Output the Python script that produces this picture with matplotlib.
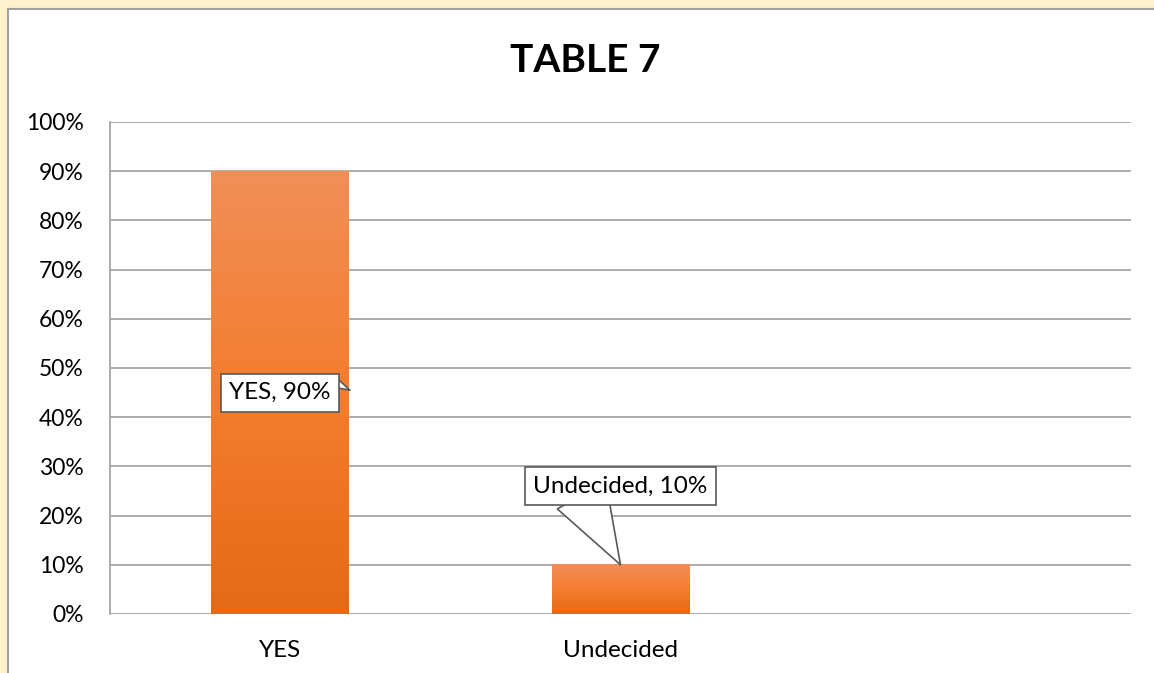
import numpy as np
import matplotlib
matplotlib.use("Agg")
import matplotlib.pyplot as plt
from matplotlib.colors import LinearSegmentedColormap
from matplotlib.patches import Rectangle

categories = ["YES", "Undecided", ""]
values = [90, 10, np.nan]
yticks = [0, 10, 20, 30, 40, 50, 60, 70, 80, 90, 100]
title = "TABLE 7"

# callout placement: label center (data), pointer tip (data),
# pointer base offset from tip (points), pointer width
label_pos = [(0, 45.0), (1, 26.0)]
label_tip = [(0.205, 45.5), (1, 10)]
label_base = [(-14, 7), (-28, 50)]
label_wedge = [0.45, 2.0]

plt.rcParams['font.family'] = ['Lato', 'DejaVu Sans']

fig = plt.figure(figsize=(11.54, 6.73), dpi=100)
fig.patch.set_facecolor("#FFF2CC")
# white chart panel with grey edge
fig.patches.append(Rectangle((8 / 1154, -0.05), 1.1, (673 - 9) / 673 + 0.05,
                             transform=fig.transFigure, fc="white",
                             ec="#A0A0A0", lw=1.5, zorder=-10))

ax = fig.add_axes([110 / 1154, 59 / 673, 1021 / 1154, 492 / 673])
ax.set_facecolor("none")

x = np.arange(len(categories))
bars = ax.bar(x, values, width=0.405, color="none", zorder=2)

cmap = LinearSegmentedColormap.from_list("excel_orange",
                                         ["#E56A17", "#F47D2F", "#F08F58"])
grad = np.linspace(0, 1, 256).reshape(-1, 1)
for b in bars:
    h = b.get_height()
    if not np.isfinite(h) or h <= 0:
        continue
    x0 = b.get_x()
    ax.imshow(grad, extent=[x0, x0 + b.get_width(), 0, h], origin="lower",
              aspect="auto", cmap=cmap, zorder=2, interpolation="bicubic")

ax.set_xlim(-0.5, len(categories) - 0.5)
ax.set_ylim(0, 100)
ax.set_yticks(yticks)
ax.set_yticklabels([f"{t}%" for t in yticks])
ax.set_xticks(x)
ax.set_xticklabels(categories)
ax.tick_params(axis="both", length=0, colors="black")
ax.tick_params(axis="y", pad=19, labelsize=16.5)
ax.tick_params(axis="x", pad=19, labelsize=17.5)
ax.grid(axis="y", color="#A6A6A6", lw=1.3, zorder=1)
ax.set_axisbelow(True)
for s in ["top", "right", "bottom"]:
    ax.spines[s].set_visible(False)
ax.spines["left"].set_color("#A6A6A6")
ax.spines["left"].set_linewidth(1.3)

for (lx, ly), tip, base, tw, cat, v in zip(label_pos, label_tip, label_base,
                                            label_wedge, categories, values):
    # pointer wedge, drawn under the box
    ax.annotate("", xy=tip, xytext=base, textcoords="offset points",
                arrowprops=dict(arrowstyle=f"wedge,tail_width={tw},shrink_factor=0.5",
                                fc="white", ec="#595959", lw=1.2,
                                shrinkA=0, shrinkB=0, mutation_scale=20),
                zorder=5)
    ax.text(lx, ly, f"{cat}, {v:.0f}%", ha="center", va="center", fontsize=17.5,
            bbox=dict(boxstyle="square,pad=0.35", fc="white", ec="#595959", lw=1.2),
            zorder=6)

fig.text(585 / 1154, 1 - 61 / 673, title, ha="center", va="center",
         fontsize=28, fontweight="bold")

fig.savefig("out.png", dpi=100, facecolor=fig.get_facecolor())
